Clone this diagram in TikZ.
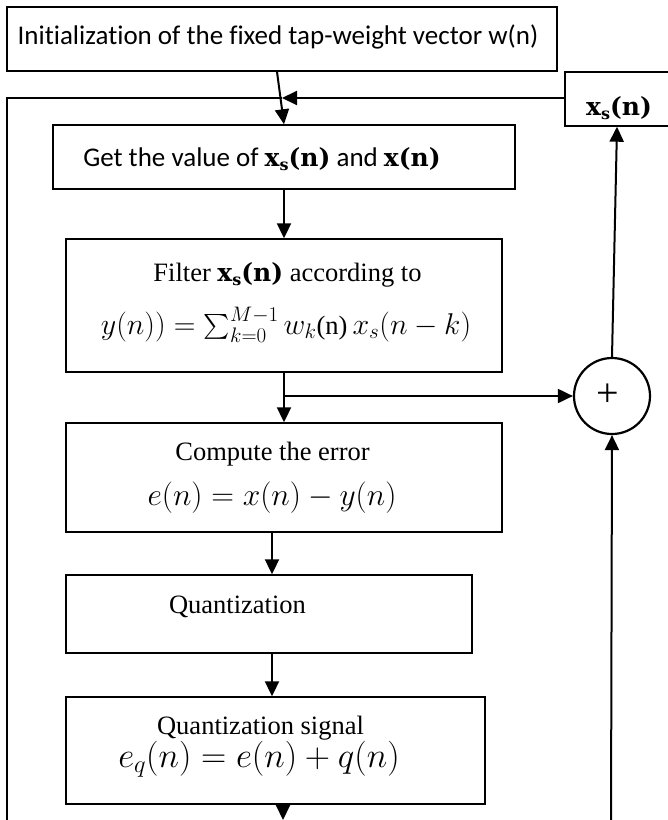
\RequirePackage{fix-cm}
\documentclass[tikz,border=0pt]{standalone}
\usepackage{amsmath}
\usepackage{fontspec}
\setmainfont{Liberation Serif}
\newfontfamily\calfont{Carlito}[Ligatures=NoCommon]
\newfontfamily\dvb{DejaVu Serif}
\newcommand\bxsn{{\dvb\bfseries\fontsize{25}{30}\selectfont x\raisebox{-0.35ex}{\fontsize{16}{16}\selectfont s}(n)}}
\newcommand\bxn{{\dvb\bfseries\fontsize{25}{30}\selectfont x(n)}}
\newcommand\mymathbig[2]{{\fontsize{#1}{36}\selectfont$#2$}}
\usetikzlibrary{arrows.meta}
\begin{document}
\begin{tikzpicture}[x=1pt,y=-1pt,
  box/.style={draw, line width=1.4pt, inner sep=0pt},
  txt/.style={anchor=base, inner sep=0pt, font=\fontsize{26.5}{30}\selectfont},
  caltxt/.style={anchor=base, inner sep=0pt, font=\calfont\fontsize{27}{30}\selectfont},
  arr/.style={line width=2pt, -{Triangle[length=15pt,width=14pt]}},
  plain/.style={line width=2pt}]
\useasboundingbox (0,0) rectangle (668,820);
% boxes
\node[box, minimum width=550, minimum height=64] (top) at (282,39) {};
\node[box, minimum width=110, minimum height=54] (xs) at (620,99) {};
\node[box, minimum width=462, minimum height=64] (get) at (284,157) {};
\node[box, minimum width=436, minimum height=133] (filt) at (284,305.5) {};
\node[box, minimum width=436, minimum height=109] (comp) at (284,477.5) {};
\node[box, minimum width=406, minimum height=78] (quant) at (269,614) {};
\node[box, minimum width=419, minimum height=107] (qsig) at (275.5,750.5) {};
\node[circle, draw, line width=2.2pt, minimum size=76, inner sep=0pt] (sum) at (612,396) {};
% texts
\node[caltxt] (toptxt) at (278,44) {Initialization of the fixed tap-weight vector w(n)};
\node[txt] (xstxt) at (619,115) {\bxsn};
\node[caltxt] (gettxt) at (262,166) {Get the value of \bxsn{} and \bxn};
\node[txt] (filtA) at (287.5,281) {Filter \bxsn{} according to};
\node[txt] (filtB) at (286,334) {\mymathbig{30}{y(n)) = \sum_{k=0}^{M-1} w_{k}\textrm{\fontsize{26.5}{30}\selectfont(n)}\, x_{s}(n-k)}};
\node[txt] (compA) at (272.5,460) {Compute the error};
\node[txt] (compB) at (272,505) {\mymathbig{31.5}{e(n) = x(n) - y(n)}};
\node[txt] (quanttxt) at (237.5,613) {Quantization};
\node[txt] (qsigA) at (260.5,734) {Quantization signal};
\node[txt] (qsigB) at (259,767) {\mymathbig{35}{e_{q}(n) = e(n) + q(n)}};
\node[inner sep=0pt, font=\fontsize{40}{40}\selectfont] (plus) at (608,395) {+};
% connectors
\coordinate (a0x) at (277,0);
\coordinate (j) at (282,98);
\coordinate (fl) at (7,98);
\coordinate (fb) at (7,825);
\coordinate (qx) at (272,0);
\coordinate (bx) at (283,820);
\coordinate (xsx) at (617,0);
\coordinate (rb) at (611,825);
\draw[arr] (top.south -| a0x) -- (get.north);
\draw[arr] (xs.west |- j) -- (j);
\draw[plain] (j) -- (fl) -- (fb);
\draw[arr] (get.south) -- (filt.north);
\draw[arr] (filt.south) -- (comp.north);
\draw[arr] (filt.south |- sum.west) -- (sum.west);
\draw[arr] (comp.south -| qx) -- (quant.north -| qx);
\draw[arr] (quant.south -| qx) -- (qsig.north -| qx);
\draw[arr] (qsig.south -| bx) -- (bx);
\draw[arr] (sum.north) -- (xs.south -| xsx);
\draw[arr] (rb) -- (sum.south);
\end{tikzpicture}
\end{document}
